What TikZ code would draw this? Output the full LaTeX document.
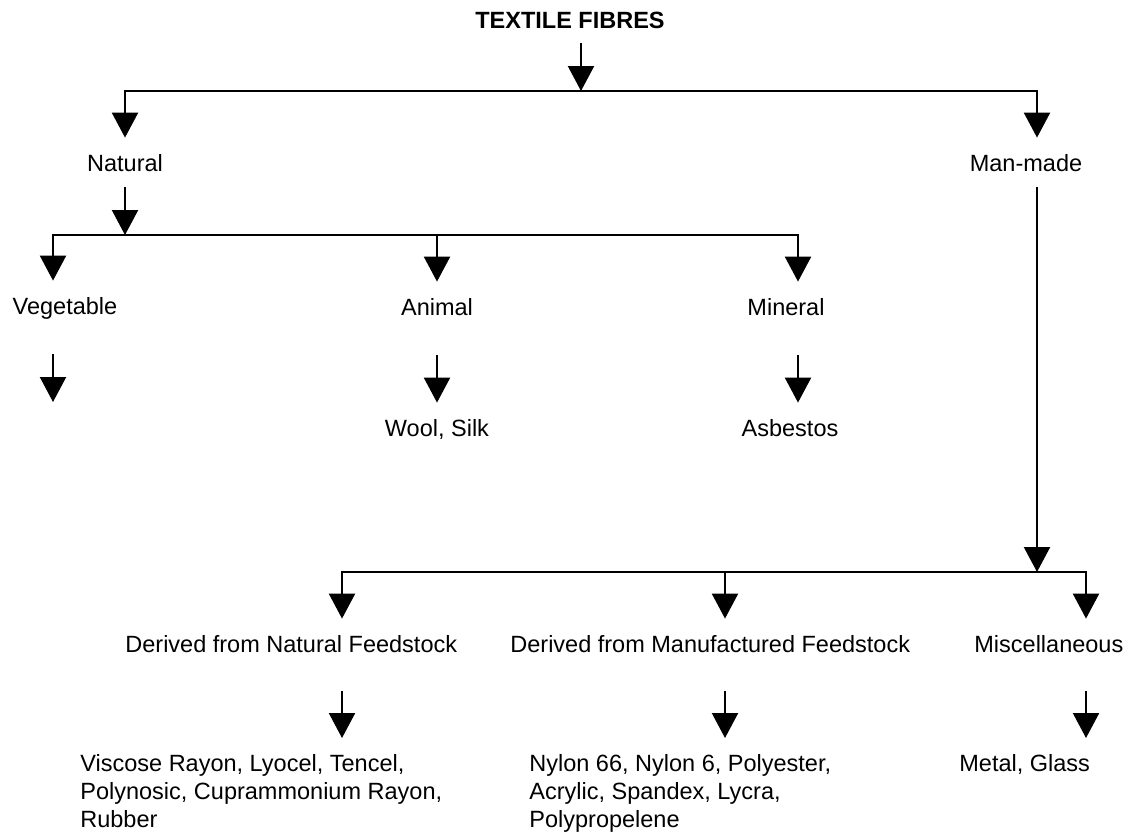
\documentclass[tikz,border=0pt]{standalone}
\usepackage{fontspec}
\setmainfont{Liberation Sans}
\usetikzlibrary{arrows.meta}

\tikzset{
  txt/.style={inner sep=0pt, text height=8.5pt, text depth=2.5pt, font=\fontsize{11.75}{14}\selectfont},
  liste/.style={inner sep=0pt, align=left, anchor=north west, font=\fontsize{11.75}{14}\selectfont},
  linie/.style={line width=1.1pt, line cap=rect},
  pfeil/.style={line width=1.1pt, -{Triangle[width=13pt,length=12.5pt]}, shorten >=8pt},
}

\begin{document}
\begin{tikzpicture}[x=0.5pt,y=-0.5pt]
  \useasboundingbox (0,0) rectangle (1134,832);

  % Texte
  \node[txt,anchor=base,font=\fontsize{11.75}{14}\selectfont\bfseries] (titel) at (570,28) {TEXTILE FIBRES};
  \node[txt,anchor=base] (nat) at (125,171) {Natural};
  \node[txt,anchor=base] (man) at (1026,171) {Man-made};
  \node[txt,anchor=base] (veg) at (65,314) {Vegetable};
  \node[txt,anchor=base] (ani) at (437,315) {Animal};
  \node[txt,anchor=base] (min) at (786,315) {Mineral};
  \node[txt,anchor=base] (wool) at (437,436) {Wool, Silk};
  \node[txt,anchor=base] (asb) at (790,436) {Asbestos};
  \node[txt,anchor=base west] (dnf) at (125,652) {Derived from Natural Feedstock};
  \node[txt,anchor=base west] (dmf) at (510,652) {Derived from Manufactured Feedstock};
  \node[txt,anchor=base west] (mis) at (974,652) {Miscellaneous};
  \node[liste] (visc) at (80,754) {Viscose Rayon, Lyocel, Tencel,\\Polynosic, Cuprammonium Rayon,\\Rubber};
  \node[liste] (nyl) at (529,754) {Nylon 66, Nylon 6, Polyester,\\Acrylic, Spandex, Lycra,\\Polypropelene};
  \node[liste] (met) at (959,754) {Metal, Glass};

  % Verzweigungen
  \coordinate (j0) at (581,91);
  \coordinate (bNat) at (125,91);
  \coordinate (bMan) at (1037,91);
  \coordinate (jNat) at (125,235);
  \coordinate (bVeg) at (53,235);
  \coordinate (bAni) at (437,235);
  \coordinate (bMin) at (798,235);
  \coordinate (vegEnd) at (53,402);
  \coordinate (jMan) at (1037,572);
  \coordinate (bNF) at (342,572);
  \coordinate (bMF) at (725,572);
  \coordinate (bMis) at (1086,572);

  % Ebene 1
  \draw[pfeil,shorten <=5pt,shorten >=0pt] (titel.south -| j0) -- (j0);
  \draw[linie] (bNat) -- (bMan);
  \draw[pfeil] (bNat) -- (nat.north -| bNat);
  \draw[pfeil] (bMan) -- (man.north -| bMan);

  % Natural
  \draw[pfeil,shorten <=5.5pt,shorten >=0pt] (nat.south -| jNat) -- (jNat);
  \draw[linie] (bVeg) -- (bMin);
  \draw[pfeil] (bVeg) -- (veg.north -| bVeg);
  \draw[pfeil] (bAni) -- (ani.north -| bAni);
  \draw[pfeil] (bMin) -- (min.north -| bMin);
  \draw[pfeil,shorten <=17.5pt,shorten >=0pt] (veg.south -| bVeg) -- (vegEnd);
  \draw[pfeil,shorten <=17.5pt] (ani.south -| bAni) -- (wool.north -| bAni);
  \draw[pfeil,shorten <=17.5pt] (min.south -| bMin) -- (asb.north -| bMin);

  % Man-made
  \draw[pfeil,shorten <=5.5pt,shorten >=0pt] (man.south -| jMan) -- (jMan);
  \draw[linie] (bNF) -- (bMis);
  \draw[pfeil] (bNF) -- (dnf.north -| bNF);
  \draw[pfeil] (bMF) -- (dmf.north -| bMF);
  \draw[pfeil] (bMis) -- (mis.north -| bMis);
  \draw[pfeil,shorten <=17pt] (dnf.south -| bNF) -- (visc.north -| bNF);
  \draw[pfeil,shorten <=17pt] (dmf.south -| bMF) -- (nyl.north -| bMF);
  \draw[pfeil,shorten <=17pt] (mis.south -| bMis) -- (met.north -| bMis);
\end{tikzpicture}
\end{document}
